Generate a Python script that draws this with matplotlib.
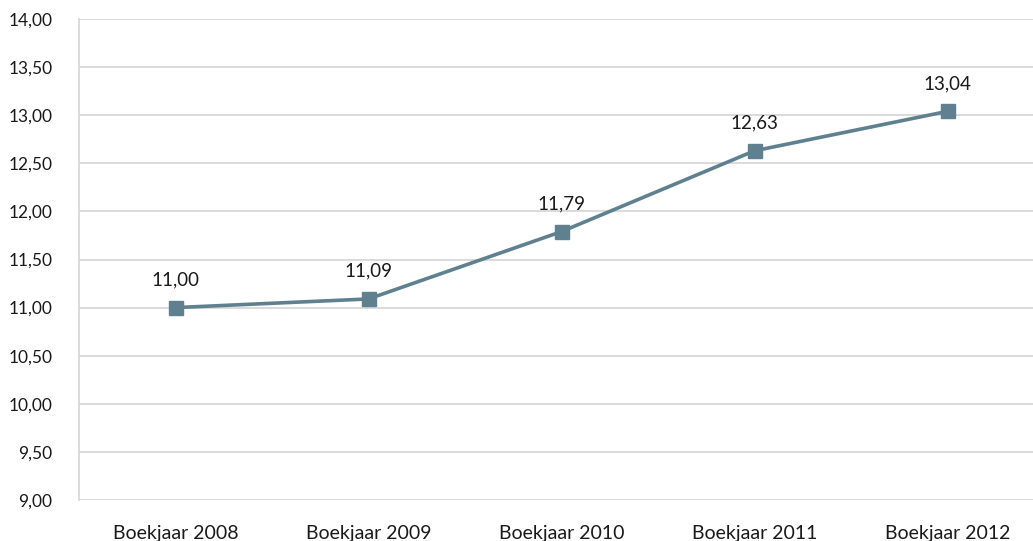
import matplotlib
matplotlib.use("Agg")
import matplotlib.pyplot as plt

categories = ["Boekjaar 2008", "Boekjaar 2009", "Boekjaar 2010", "Boekjaar 2011", "Boekjaar 2012"]
values = [11.00, 11.09, 11.79, 12.63, 13.04]
yticks = [9.0, 9.5, 10.0, 10.5, 11.0, 11.5, 12.0, 12.5, 13.0, 13.5, 14.0]

plt.rcParams['font.family'] = ['Lato', 'DejaVu Sans']

W, H = 1033, 541
fig = plt.figure(figsize=(W / 100, H / 100), dpi=100)
left, right, top, bottom = 79, 1033, 19, 500
ax = fig.add_axes([left / W, 1 - bottom / H, (right - left) / W, (bottom - top) / H])

color = "#5f818f"
x = list(range(len(categories)))
ax.plot(x, values, color=color, lw=2.6, marker='s', markersize=10.5, zorder=3, clip_on=False)
for xi, v in zip(x, values):
    ax.annotate(f"{v:.2f}".replace('.', ','), (xi, v), xytext=(0, 14), textcoords='offset points',
                ha='center', va='bottom', fontsize=13.5, color='#1a1a1a')

ax.set_ylim(9, 14)
ax.set_yticks(yticks)
ax.set_yticklabels([f"{t:.2f}".replace('.', ',') for t in yticks], fontsize=12.5, color='#1a1a1a')
ax.set_xlim(-0.5, -0.5 + (right - left) / 193)
ax.set_xticks(x)
ax.set_xticklabels(categories, fontsize=14, color='#1a1a1a')
ax.grid(axis='y', color='#d4d4d4', lw=1.2)
ax.set_axisbelow(True)
for s in ['top', 'right', 'bottom']:
    ax.spines[s].set_visible(False)
ax.spines['left'].set_color('#d4d4d4')
ax.spines['left'].set_linewidth(1.2)
ax.tick_params(axis='both', length=0)
ax.tick_params(axis='y', pad=19)
ax.tick_params(axis='x', pad=18)

fig.savefig("out.png", dpi=100)
